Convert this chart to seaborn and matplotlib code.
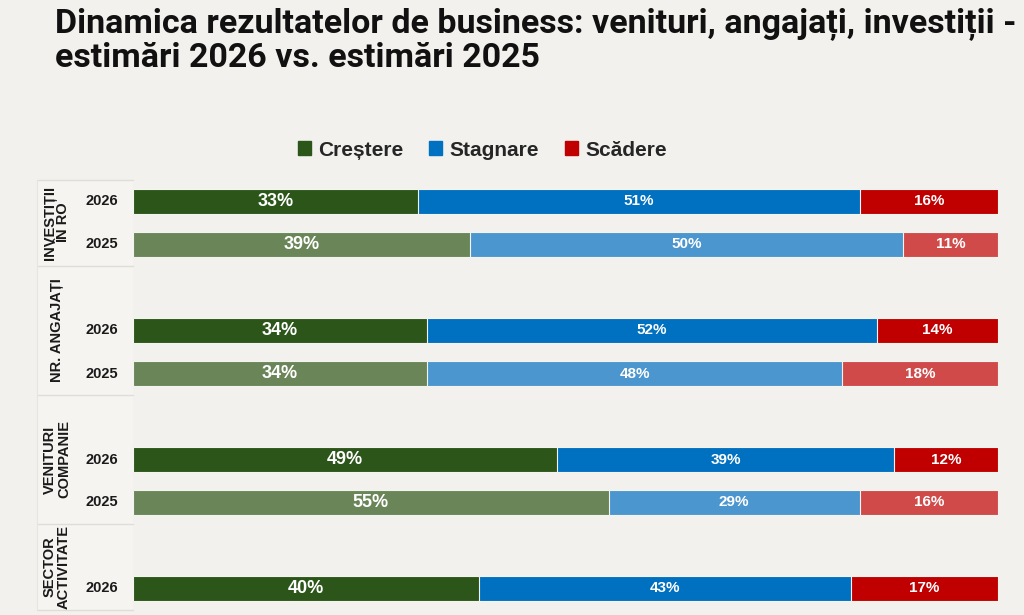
import pandas as pd
import matplotlib.pyplot as plt
import matplotlib.patches as mpatches
import seaborn as sns

# Data
groups = ["INVESTIȚII\nÎN RO", "NR. ANGAJAȚI", "VENITURI\nCOMPANIE", "SECTOR\nACTIVITATE"]
row_group = [0, 0, 1, 1, 2, 2, 3]
row_year = ["2026", "2025", "2026", "2025", "2026", "2025", "2026"]
row_pos = [0, 1, 3, 4, 6, 7, 9]
crestere = [33, 39, 34, 34, 49, 55, 40]
stagnare = [51, 50, 52, 48, 39, 29, 43]
scadere = [16, 11, 14, 18, 12, 16, 17]

BG = "#f2f1ed"
green = {"2026": "#2c5519", "2025": "#6a8558"}
blue = {"2026": "#0070c0", "2025": "#4b96cf"}
red = {"2026": "#c00000", "2025": "#d04a4a"}


def main():
    df = pd.DataFrame({
        "pos": row_pos, "year": row_year, "group": row_group,
        "Creștere": crestere, "Stagnare": stagnare, "Scădere": scadere,
    })
    df["cum_g"] = df["Creștere"]
    df["cum_b"] = df["Creștere"] + df["Stagnare"]
    df["cum_r"] = df["cum_b"] + df["Scădere"]

    sns.set_theme(style="white")
    plt.rcParams["font.family"] = ["Liberation Sans", "DejaVu Sans"]

    fig = plt.figure(figsize=(10.24, 6.15), dpi=100, facecolor=BG)
    ax = fig.add_axes([133 / 1024, 5 / 615, 865 / 1024, 430 / 615])
    ax.set_facecolor(BG)

    # stacked bars drawn back to front
    for col, pal in [("cum_r", red), ("cum_b", blue), ("cum_g", green)]:
        sns.barplot(data=df, x=col, y="pos", hue="year", hue_order=["2026", "2025"],
                    palette=pal, saturation=1, orient="y", native_scale=True, dodge=False,
                    width=0.56, legend=False, edgecolor="#f4f4ee", linewidth=0.8, ax=ax)

    ax.set_xlim(0, 100)
    ax.set_ylim(9.5, -0.5)
    ax.set_xlabel("")
    ax.set_ylabel("")
    ax.set_xticks([])
    ax.set_yticks([])
    for s in ax.spines.values():
        s.set_visible(False)

    # segment labels
    for _, r in df.iterrows():
        ax.text(r["Creștere"] / 2, r["pos"], f"{r['Creștere']}%", ha="center", va="center",
                color="white", fontsize=13, fontweight="bold")
        ax.text(r["cum_g"] + r["Stagnare"] / 2, r["pos"], f"{r['Stagnare']}%", ha="center",
                va="center", color="white", fontsize=11, fontweight="bold")
        ax.text(r["cum_b"] + r["Scădere"] / 2, r["pos"], f"{r['Scădere']}%", ha="center",
                va="center", color="white", fontsize=11, fontweight="bold")

    # left label column
    tr = ax.get_yaxis_transform()
    x0 = (37 - 133) / 865
    ax.add_patch(mpatches.Rectangle((x0, -0.5), -x0, 10, transform=tr, facecolor="#f5f4f1",
                                    edgecolor="none", clip_on=False, zorder=0))
    for yb in [-0.5, 1.5, 4.5, 7.5, 9.5]:
        ax.plot([x0, 0], [yb, yb], transform=tr, color="#deddd8", lw=1, clip_on=False)
    ax.plot([x0, x0], [-0.5, 9.5], transform=tr, color="#e6e5e0", lw=0.8, clip_on=False)

    bounds = [(-0.5, 1.5), (1.5, 4.5), (4.5, 7.5), (7.5, 9.5)]
    for g, (a, b) in zip(groups, bounds):
        ax.text((57 - 133) / 865, (a + b) / 2, g, transform=tr, rotation=90, ha="center",
                va="center", fontsize=10.5, fontweight="bold", color="#1a1a1a",
                linespacing=1.0, clip_on=False)
    for _, r in df.iterrows():
        ax.text((102 - 133) / 865, r["pos"], r["year"], transform=tr, ha="center",
                va="center", fontsize=10.5, fontweight="bold", color="#1a1a1a")

    # legend
    handles = [mpatches.Patch(color=c, label=l) for c, l in
               [(green["2026"], "Creștere"), (blue["2026"], "Stagnare"), (red["2026"], "Scădere")]]
    fig.legend(handles=handles, loc="center", bbox_to_anchor=(0.471, 0.756), ncol=3,
               frameon=False, handlelength=0.62, handleheight=0.62, handletextpad=0.35,
               columnspacing=1.25, borderpad=0, prop={"weight": "bold", "size": 15})

    fig.text(55 / 1024, 1 - 7 / 615, "Dinamica rezultatelor de business: venituri, angajați, investiții -\nestimări 2026 vs. estimări 2025",
             ha="left", va="top", fontsize=24.5, fontweight="bold",
             family=["Roboto", "DejaVu Sans"], linespacing=1.1, color="#111111")

    fig.savefig("out.png", dpi=100, facecolor=BG)


if __name__ == "__main__":
    main()
